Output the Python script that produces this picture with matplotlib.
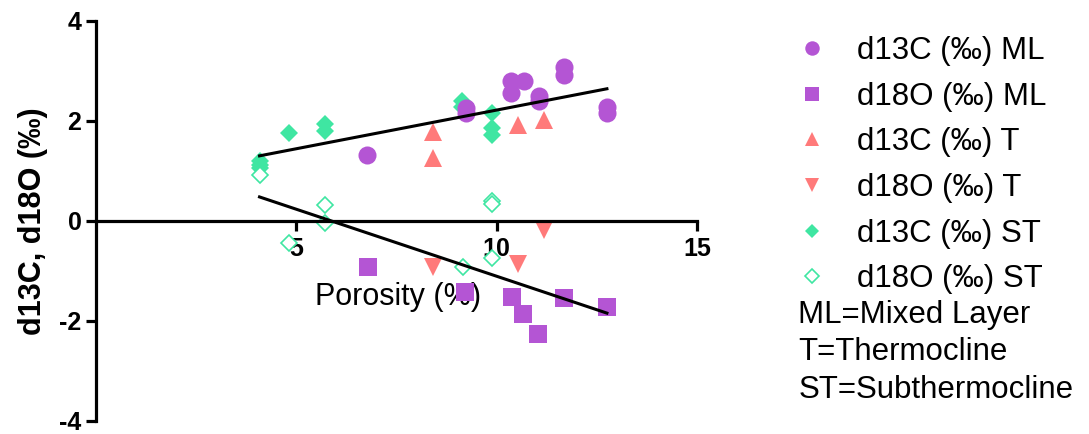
import matplotlib
matplotlib.use('Agg')
import matplotlib.pyplot as plt
import numpy as np

plt.rcParams['font.family'] = ['Liberation Sans', 'DejaVu Sans']
plt.rcParams['axes.unicode_minus'] = False

# porosity (%) vs isotope values, grouped by depth habitat
ml_d13c_x = [6.77, 9.24, 9.24, 10.35, 10.68, 10.35, 11.06, 11.06, 11.68, 11.68, 12.75, 12.75]
ml_d13c_y = [1.32, 2.26, 2.16, 2.80, 2.79, 2.55, 2.50, 2.40, 3.07, 2.91, 2.28, 2.16]
ml_d18o_x = [6.78, 9.22, 10.37, 10.66, 11.04, 11.68, 12.74]
ml_d18o_y = [-0.92, -1.42, -1.53, -1.86, -2.27, -1.55, -1.73]
t_d13c_x = [8.42, 8.42, 10.52, 11.17]
t_d13c_y = [1.77, 1.25, 1.91, 2.02]
t_d18o_x = [8.42, 10.53, 11.18]
t_d18o_y = [-0.93, -0.87, -0.18]
st_d13c_x = [4.08, 4.08, 4.08, 4.81, 5.72, 5.72, 9.14, 9.14, 9.89, 9.89, 9.89]
st_d13c_y = [1.19, 1.12, 1.05, 1.75, 1.94, 1.79, 2.39, 2.27, 2.15, 1.85, 1.72]
st_d18o_x = [4.08, 4.81, 5.72, 5.72, 9.15, 9.87, 9.89, 9.89]
st_d18o_y = [0.92, -0.45, 0.31, -0.05, -0.93, -0.75, 0.40, 0.34]

# linear fits (slope, intercept) for the d13C and d18O groups
fit_d13c = (0.1547, 0.666)
fit_d18o = (-0.268, 1.569)

purple = '#B455D4'
salmon = '#FF7A7A'
green = '#3FE6A2'

fig = plt.figure(figsize=(10.89, 4.34), dpi=100)
ax = fig.add_axes([0.0882, 0.0306, 0.5519, 0.9217])

h_st13, = ax.plot(st_d13c_x, st_d13c_y, 'D', color=green, ms=8.9, mew=0, ls='none')
h_st18, = ax.plot(st_d18o_x, st_d18o_y, 'D', mfc='white', mec=green, ms=8.4, mew=1.2, ls='none')
h_t13, = ax.plot(t_d13c_x, t_d13c_y, '^', color=salmon, ms=12.3, mew=0, ls='none')
h_t18, = ax.plot(t_d18o_x, t_d18o_y, 'v', color=salmon, ms=12.3, mew=0, ls='none')
h_ml13, = ax.plot(ml_d13c_x, ml_d13c_y, 'o', color=purple, ms=13, mew=0, ls='none')
h_ml18, = ax.plot(ml_d18o_x, ml_d18o_y, 's', color=purple, ms=12.8, mew=0, ls='none')

# fit lines span the full porosity range
all_x = np.concatenate([ml_d13c_x, ml_d18o_x, t_d13c_x, t_d18o_x, st_d13c_x, st_d18o_x])
xr = np.array([all_x.min(), all_x.max()])
ax.plot(xr, fit_d13c[0] * xr + fit_d13c[1], color='black', lw=2.2, zorder=2.2)
ax.plot(xr, fit_d18o[0] * xr + fit_d18o[1], color='black', lw=2.2, zorder=2.2)

ax.set_xlim(0, 15)
ax.set_ylim(-4, 4)
ax.set_xticks([5, 10, 15])
ax.set_yticks([-4, -2, 0, 2, 4])
ax.spines['top'].set_visible(False)
ax.spines['right'].set_visible(False)
ax.spines['bottom'].set_position(('data', 0))
for s in ['left', 'bottom']:
    ax.spines[s].set_linewidth(2.3)
ax.tick_params(axis='both', direction='out', length=7, width=2.3)
ax.tick_params(axis='x', pad=5)
ax.tick_params(axis='y', pad=3.5)
for lab in ax.get_xticklabels() + ax.get_yticklabels():
    lab.set_fontsize(18)
    lab.set_fontweight('bold')

ax.set_xlabel('Porosity (%)', fontsize=22)
ax.xaxis.set_label_coords(0.502, 0.309)
ax.xaxis.label.set_verticalalignment('center')
ax.set_ylabel('d13C, d18O (‰)', fontsize=22, fontweight='bold')
ax.yaxis.set_label_coords(-0.105, 0.5)
ax.yaxis.label.set_verticalalignment('center')

handles = [h_ml13, h_ml18, h_t13, h_t18, h_st13, h_st18]
labels = ['d13C (‰) ML', 'd18O (‰) ML', 'd13C (‰) T', 'd18O (‰) T',
          'd13C (‰) ST', 'd18O (‰) ST']
fig.legend(handles, labels, loc='upper left', bbox_to_anchor=(0.7323, 0.917),
           frameon=False, borderpad=0, borderaxespad=0, fontsize=22.5,
           handlelength=0.95, handletextpad=0.95, labelspacing=0.5, markerscale=0.8)

notes = ['ML=Mixed Layer', 'T=Thermocline', 'ST=Subthermocline']
for i, note in enumerate(notes):
    fig.text(0.733, 1 - (315 + 37.5 * i) / 434, note, fontsize=22.5, va='center', ha='left')

fig.savefig('out.png', dpi=100)
